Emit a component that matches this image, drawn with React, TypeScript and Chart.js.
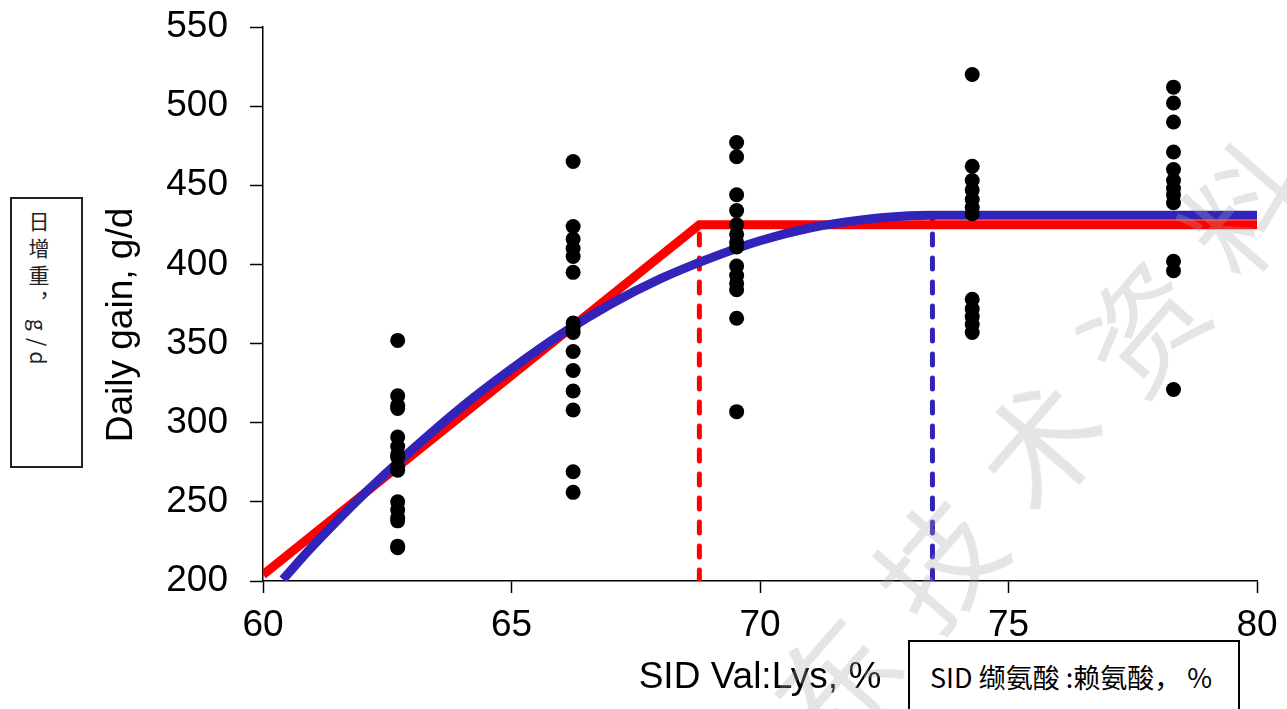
import React, { useEffect, useRef } from "react";
import { Chart, registerables } from "chart.js";

Chart.register(...registerables);

// ---------- data ----------
const xTickValues = [60, 65, 70, 75, 80];
const yTickValues = [200, 250, 300, 350, 400, 450, 500, 550];

const lysLevels = [62.71, 66.24, 69.53, 74.27, 78.32];
const gainLevel1 = [352, 317, 311, 309, 291, 285, 280, 278, 272, 270, 250, 245, 240, 238, 222, 221];
const gainLevel2 = [465, 424, 416, 410, 405, 395, 363, 360, 357, 345, 333, 320, 308, 269, 256];
const gainLevel3 = [477, 468, 444, 434, 425, 419, 414, 411, 399, 393, 388, 384, 366, 307];
const gainLevel4 = [520, 462, 453, 447, 441, 436, 432, 378, 372, 367, 362, 357];
const gainLevel5 = [512, 502, 490, 471, 460, 453, 448, 444, 439, 402, 396, 321];

// broken-line (linear plateau) model
const brokenLineX = [60, 68.78, 80];
const brokenLineY = [204, 425, 425];

// quadratic plateau model
const quadCurveX = [60.4, 61, 62, 63, 64, 65, 66, 67, 68, 69, 70, 71, 72, 73, 73.47, 80];
const quadCurveY = [201, 222, 254, 283, 310, 334, 356, 375, 391, 404, 415, 423, 428, 430.7, 431, 431];

// breakpoints
const redBreakX = [68.78, 68.78];
const redBreakY = [200, 425];
const blueBreakX = [73.47, 73.47];
const blueBreakY = [200, 431];

const xTitle = "SID Val:Lys, %";
const yTitle = "Daily gain, g/d";
const leftBoxText = "日增重，g/d";
const bottomBoxText = "SID 缬氨酸 :赖氨酸， %";
const watermarkChars = ["东", "技", "术", "资", "料"];

const RED = "#ff0000";
const BLUE = "#3224b8";
const LATIN = "'Liberation Sans', Arial, sans-serif";
const CJK = "'Noto Sans CJK SC', 'Noto Sans', sans-serif";

const zip = (xs: number[], ys: number[]) => xs.map((x, i) => ({ x, y: ys[i] }));

export default function App() {
  const canvasRef = useRef<HTMLCanvasElement | null>(null);

  useEffect(() => {
    const canvas = canvasRef.current;
    if (!canvas) return;

    const groups = [gainLevel1, gainLevel2, gainLevel3, gainLevel4, gainLevel5];
    const scatterPts: { x: number; y: number }[] = [];
    groups.forEach((g, i) => g.forEach((y) => scatterPts.push({ x: lysLevels[i], y })));

    const titlePlugin = {
      id: "axisTitles",
      afterDraw(chart: any) {
        const ctx = chart.ctx as CanvasRenderingContext2D;
        const ca = chart.chartArea;
        ctx.save();
        ctx.fillStyle = "#000";
        ctx.font = `37px ${LATIN}`;
        ctx.textAlign = "center";
        ctx.textBaseline = "alphabetic";
        ctx.fillText(xTitle, (ca.left + ca.right) / 2, 688);
        ctx.translate(132, 325);
        ctx.rotate(-Math.PI / 2);
        ctx.fillText(yTitle, 0, 0);
        ctx.restore();
      },
    };

    const chart = new Chart(canvas, {
      type: "scatter",
      data: {
        datasets: [
          {
            label: "obs",
            data: scatterPts,
            backgroundColor: "#000",
            borderColor: "#000",
            pointRadius: 7.5,
            pointHoverRadius: 7.5,
            borderWidth: 0,
          },
          {
            label: "QP",
            data: zip(quadCurveX, quadCurveY),
            showLine: true,
            borderColor: BLUE,
            borderWidth: 9,
            pointRadius: 0,
            tension: 0.3,
            borderJoinStyle: "round",
          },
          {
            label: "BL",
            data: zip(brokenLineX, brokenLineY),
            showLine: true,
            borderColor: RED,
            borderWidth: 9,
            pointRadius: 0,
            borderJoinStyle: "miter",
          },
          {
            label: "redBreak",
            data: zip(redBreakX, redBreakY),
            showLine: true,
            borderColor: RED,
            borderWidth: 5,
            borderDash: [11, 13],
            borderCapStyle: "round",
            pointRadius: 0,
          },
          {
            label: "blueBreak",
            data: zip(blueBreakX, blueBreakY),
            showLine: true,
            borderColor: BLUE,
            borderWidth: 5,
            borderDash: [11, 13],
            borderCapStyle: "round",
            pointRadius: 0,
          },
        ],
      } as any,
      options: {
        animation: false,
        responsive: false,
        devicePixelRatio: 1,
        layout: { padding: { left: 0, right: 30, top: 27, bottom: 0 } },
        plugins: {
          legend: { display: false },
          tooltip: { enabled: false },
          title: { display: false },
        },
        scales: {
          x: {
            type: "linear",
            min: 60,
            max: 80,
            afterBuildTicks: (s: any) => {
              s.ticks = xTickValues.map((v) => ({ value: v }));
            },
            afterFit: (s: any) => {
              s.height = 128;
              s.paddingLeft = 0;
              s.paddingRight = 0;
            },
            ticks: {
              color: "#000",
              font: { family: LATIN, size: 37 },
              padding: 11,
              maxRotation: 0,
              autoSkip: false,
            },
            grid: {
              drawOnChartArea: false,
              drawTicks: true,
              tickLength: 12,
              tickColor: "#000",
              tickWidth: 1.5,
            },
            border: { display: true, color: "#000", width: 1.5 },
          },
          y: {
            type: "linear",
            min: 200,
            max: 550,
            afterBuildTicks: (s: any) => {
              s.ticks = yTickValues.map((v) => ({ value: v }));
            },
            afterFit: (s: any) => {
              s.width = 263;
              s.paddingTop = 0;
              s.paddingBottom = 0;
            },
            ticks: {
              color: "#000",
              font: { family: LATIN, size: 37 },
              padding: 22,
              autoSkip: false,
            },
            grid: {
              drawOnChartArea: false,
              drawTicks: true,
              tickLength: 13,
              tickColor: "#000",
              tickWidth: 1.5,
            },
            border: { display: true, color: "#000", width: 1.5 },
          },
        },
      } as any,
      plugins: [titlePlugin],
    });

    return () => chart.destroy();
  }, []);

  // watermark glyph placement along a diagonal
  const wmStep = { dx: -102, dy: 118 };
  const wmAnchor = { x: 1240, y: 205 }; // last glyph centre
  const wmSize = 120;

  return (
    <div
      style={{
        position: "fixed",
        left: 0,
        top: 0,
        width: 1287,
        height: 709,
        overflow: "hidden",
        background: "#fff",
      }}
    >
      <canvas
        ref={canvasRef}
        width={1287}
        height={709}
        style={{ position: "absolute", left: 0, top: 0, width: 1287, height: 709 }}
      />
      <div
        style={{
          position: "absolute",
          left: 10,
          top: 197,
          width: 69,
          height: 267,
          border: "2px solid #222",
          background: "#fff",
        }}
      >
        <div
          style={{
            position: "absolute",
            left: 16,
            top: 12,
            writingMode: "vertical-rl",
            fontFamily: CJK,
            fontSize: 21,
            lineHeight: "22px",
            letterSpacing: 6,
            color: "#222",
            whiteSpace: "nowrap",
          }}
        >
          {leftBoxText}
        </div>
      </div>
      <div
        style={{
          position: "absolute",
          left: 908,
          top: 640,
          width: 328,
          height: 100,
          border: "2px solid #000",
          background: "#fff",
        }}
      >
        <div
          style={{
            position: "absolute",
            left: 20,
            top: 20,
            fontFamily: CJK,
            fontSize: 27,
            lineHeight: "30px",
            color: "#000",
            whiteSpace: "pre",
          }}
        >
          {bottomBoxText}
        </div>
      </div>
      {watermarkChars.map((ch, i) => {
        const k = watermarkChars.length - 1 - i;
        const cx = wmAnchor.x + wmStep.dx * k;
        const cy = wmAnchor.y + wmStep.dy * k;
        return (
          <div
            key={i}
            style={{
              position: "absolute",
              left: cx - wmSize / 2,
              top: cy - wmSize / 2,
              width: wmSize,
              height: wmSize,
              lineHeight: `${wmSize}px`,
              textAlign: "center",
              fontFamily: CJK,
              fontSize: wmSize,
              color: "rgba(170,170,170,0.3)",
              transform: "rotate(-49deg)",
              pointerEvents: "none",
            }}
          >
            {ch}
          </div>
        );
      })}
    </div>
  );
}
